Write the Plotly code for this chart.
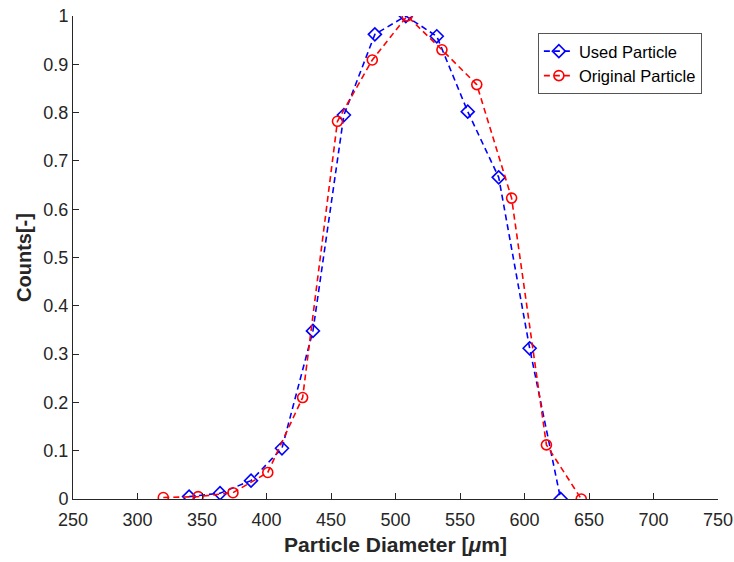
import plotly.graph_objects as go

# Normalised particle size distributions
used_diameter = [340, 364, 388, 412, 436, 460, 484, 508, 532, 556, 580, 604, 628]
used_counts = [0.005, 0.012, 0.038, 0.105, 0.348, 0.795, 0.962, 1.0, 0.958, 0.802, 0.666, 0.312, 0.0]

orig_diameter = [320, 347, 374, 401, 428, 455, 482, 509, 536, 563, 590, 617, 644]
orig_counts = [0.003, 0.005, 0.013, 0.055, 0.21, 0.782, 0.909, 1.0, 0.93, 0.858, 0.623, 0.112, 0.0]

x_ticks = [250, 300, 350, 400, 450, 500, 550, 600, 650, 700, 750]
y_ticks = [0, 0.1, 0.2, 0.3, 0.4, 0.5, 0.6, 0.7, 0.8, 0.9, 1]
y_tick_text = ["0", "0.1", "0.2", "0.3", "0.4", "0.5", "0.6", "0.7", "0.8", "0.9", "1"]

axis_col = "#262626"
font_family = "Liberation Sans, Arial, sans-serif"

fig = go.Figure()
fig.add_trace(go.Scatter(
    x=used_diameter, y=used_counts, name="Used Particle",
    mode="lines+markers",
    line=dict(color="#0000ff", dash="6px,4px", width=1.6),
    marker=dict(symbol="diamond-open", size=10, color="#0000ff", line=dict(width=1.6)),
))
fig.add_trace(go.Scatter(
    x=orig_diameter, y=orig_counts, name="Original Particle",
    mode="lines+markers",
    line=dict(color="#ff0000", dash="6px,4px", width=1.6),
    marker=dict(symbol="circle-open", size=10, color="#ff0000", line=dict(width=1.6)),
))

fig.update_layout(
    width=734, height=562,
    margin=dict(l=73, r=16, t=16, b=63),
    paper_bgcolor="white", plot_bgcolor="white",
    font=dict(family=font_family, size=18, color=axis_col),
    showlegend=True,
    legend=dict(
        x=0.975, y=0.965, xanchor="right", yanchor="top",
        bgcolor="white", bordercolor="#555555", borderwidth=1,
        font=dict(size=16.5, color="black"),
        tracegroupgap=0, itemwidth=30,
    ),
)
fig.update_xaxes(
    range=[250, 750], tickvals=x_ticks, automargin=False,
    showline=True, linecolor=axis_col, linewidth=1,
    ticks="inside", ticklen=6, tickcolor=axis_col,
    ticklabelstandoff=4,
    showgrid=False, zeroline=False, mirror=False,
    title=dict(text="<b>Particle Diameter [<i>μ</i>m]</b>", font=dict(size=21, color=axis_col), standoff=8),
)
fig.update_yaxes(
    range=[0, 1], tickvals=y_ticks, ticktext=y_tick_text, automargin=False,
    showline=True, linecolor=axis_col, linewidth=1,
    ticks="inside", ticklen=6, tickcolor=axis_col,
    showgrid=False, zeroline=False, mirror=False,
    title=dict(text="<b>Counts[-]</b>", font=dict(size=20, color=axis_col), standoff=6),
)

fig.write_html("out.html")
